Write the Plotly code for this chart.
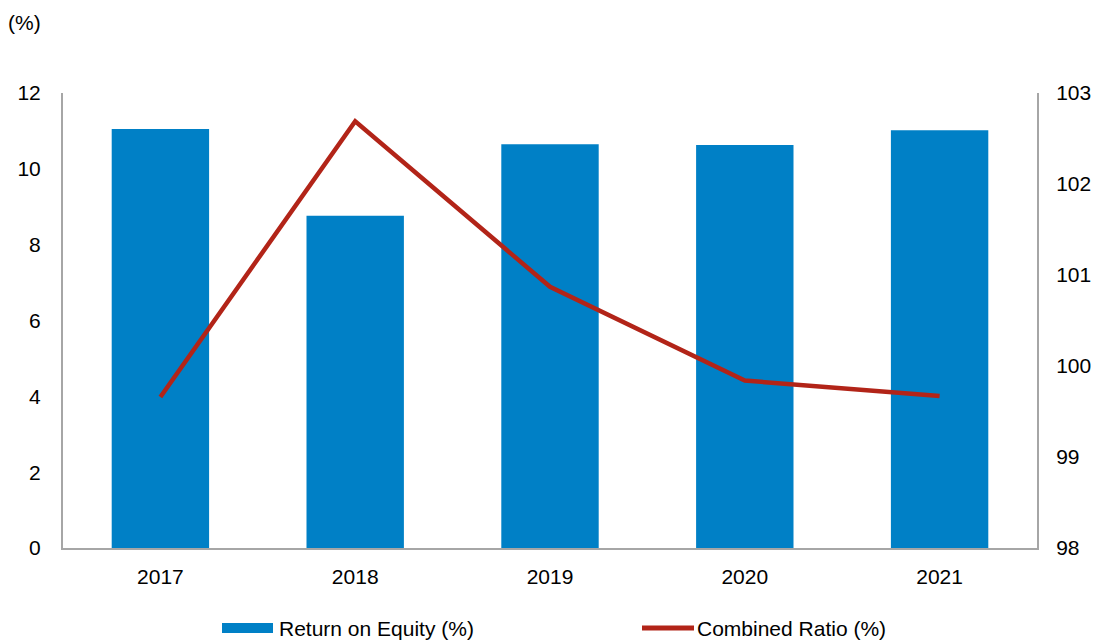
import plotly.graph_objects as go

years = ["2017", "2018", "2019", "2020", "2021"]
roe = [11.05, 8.76, 10.65, 10.63, 11.02]
combined_ratio = [99.66, 102.69, 100.87, 99.84, 99.67]

BLUE = "#0080C6"
RED = "#B22418"
AXIS = "#A6A6A6"
FONT = "Liberation Sans, Arial, sans-serif"
FS = 21

fig = go.Figure()
fig.add_trace(go.Bar(x=years, y=roe, name="Return on Equity (%)",
                     marker=dict(color=BLUE, line=dict(width=0)),
                     width=0.5, yaxis="y", showlegend=False))
fig.add_trace(go.Scatter(x=years, y=combined_ratio, name="Combined Ratio (%)",
                         mode="lines", line=dict(color=RED, width=4.5),
                         yaxis="y2", showlegend=False))

fig.update_layout(
    width=1094, height=640,
    margin=dict(l=63, r=57, t=93, b=92, autoexpand=False),
    plot_bgcolor="white", paper_bgcolor="white",
    font=dict(family=FONT, size=FS, color="#000000"),
    xaxis=dict(showline=True, linecolor=AXIS, linewidth=2, ticks="",
               showgrid=False, ticklabelstandoff=9, zeroline=False, automargin=False),
    yaxis=dict(range=[0, 12], dtick=2, showline=True, linecolor=AXIS, linewidth=2,
               showgrid=False, zeroline=False, ticks="", ticklabelstandoff=16,
               automargin=False),
    yaxis2=dict(range=[98, 103], dtick=1, overlaying="y", side="right",
                showline=True, linecolor=AXIS, linewidth=2, showgrid=False,
                zeroline=False, ticks="", ticklabelstandoff=13, automargin=False),
    bargap=0.5,
)

W = 1094 - 63 - 57
H = 640 - 93 - 92
# manual legend
fig.add_shape(type="rect", xref="paper", yref="paper",
              x0=(222 - 63) / W, x1=(273 - 63) / W,
              y0=-(633 - 548) / H, y1=-(623 - 548) / H,
              fillcolor=BLUE, line=dict(width=0))
fig.add_annotation(xref="paper", yref="paper", x=(277 - 63) / W, y=-(628 - 548) / H,
                   text="Return on Equity (%)", showarrow=False, xanchor="left",
                   yanchor="middle", font=dict(size=FS))
fig.add_shape(type="line", xref="paper", yref="paper",
              x0=(642 - 63) / W, x1=(694 - 63) / W,
              y0=-(628 - 548) / H, y1=-(628 - 548) / H,
              line=dict(color=RED, width=5))
fig.add_annotation(xref="paper", yref="paper", x=(695 - 63) / W, y=-(628 - 548) / H,
                   text="Combined Ratio (%)", showarrow=False, xanchor="left",
                   yanchor="middle", font=dict(size=FS))
fig.add_annotation(xref="paper", yref="paper", x=-(63 - 6) / W, y=1 + (93 - 22) / H,
                   text="(%)", showarrow=False, xanchor="left", yanchor="middle",
                   font=dict(size=FS))

fig.write_html("out.html")
